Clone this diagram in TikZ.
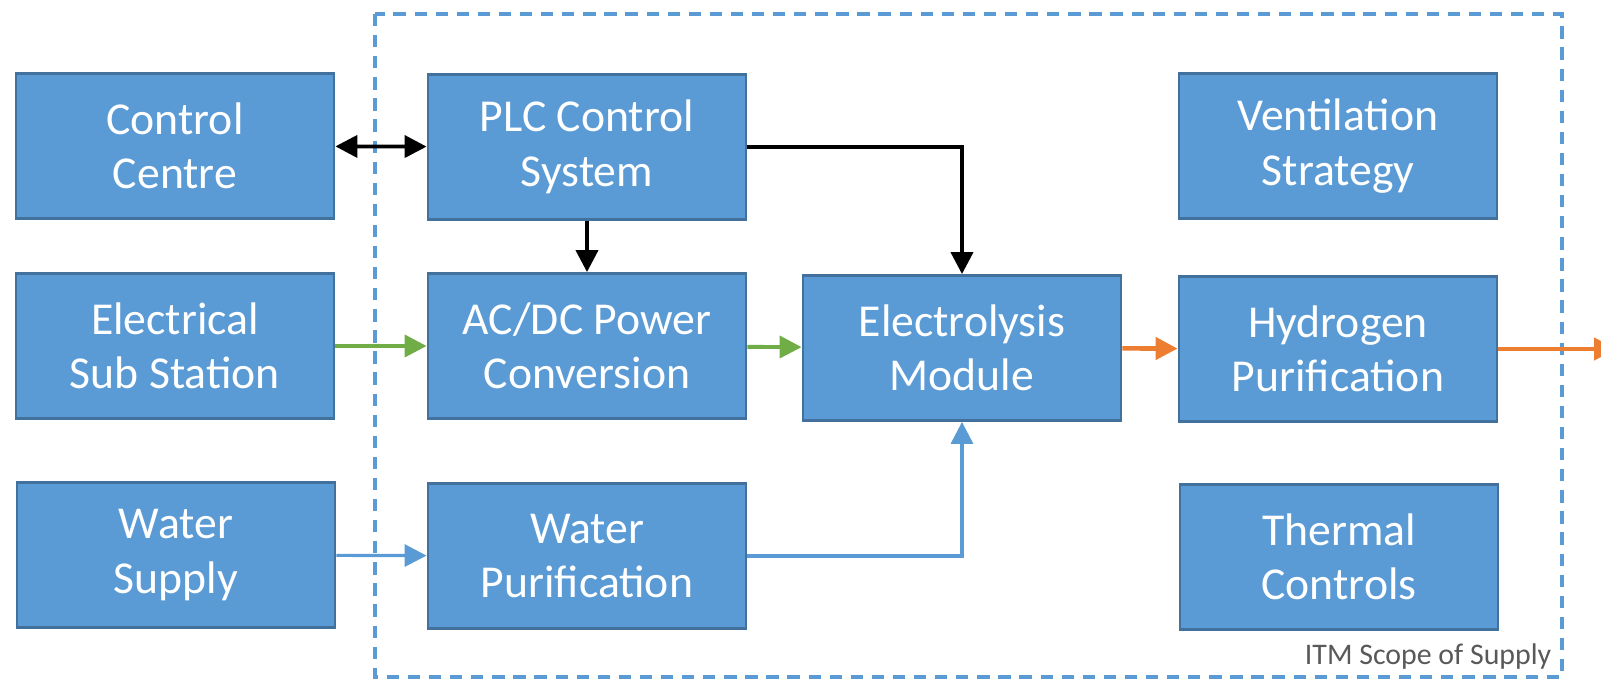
\documentclass[tikz,border=0pt]{standalone}
\usepackage{fontspec}
\setmainfont{Carlito}
\definecolor{itmblue}{HTML}{5B9BD5}
\definecolor{itmedge}{HTML}{41719C}
\definecolor{itmgreen}{HTML}{70AD47}
\definecolor{itmorange}{HTML}{ED7D31}
\definecolor{itmgrey}{HTML}{595959}
\usetikzlibrary{arrows.meta}

\begin{document}
\begin{tikzpicture}[
  font=\fontsize{13}{15.5}\selectfont,
  box/.style={draw=itmedge,line width=0.8pt,fill=itmblue,text=white,minimum width=3.18cm,minimum height=1.45cm,inner sep=2pt,align=center},
  ar/.style={-{Triangle[length=2.2mm,width=2.2mm]},line width=1.1pt},
  scope/.style={itmblue,line width=0.9pt,dash pattern=on 3.5pt off 2.5pt}]
\useasboundingbox (0,0) rectangle (16.01,-6.82);
\draw[scope] (3.75,-0.14) rectangle (15.62,-6.77);
\node[anchor=south east,font=\fontsize{8.5}{10}\selectfont,text=itmgrey,inner sep=0pt] (itm) at (15.52,-6.70) {ITM Scope of Supply};
\node[box] (cc) at (1.75,-1.46) {Control\\Centre};
\node[box] (plc) at (5.87,-1.47) {PLC Control\\System};
\node[box] (vent) at (13.38,-1.46) {Ventilation\\Strategy};
\node[box] (sub) at (1.75,-3.46) {Electrical\\Sub Station};
\node[box] (acdc) at (5.87,-3.46) {AC/DC Power\\Conversion};
\node[box] (elec) at (9.62,-3.48) {Electrolysis\\Module};
\node[box] (hyd) at (13.38,-3.49) {Hydrogen\\Purification};
\node[box] (ws) at (1.76,-5.55) {Water\\Supply};
\node[box] (wp) at (5.87,-5.56) {Water\\Purification};
\node[box] (therm) at (13.39,-5.57) {Thermal\\Controls};
\coordinate (out) at (16.16,-3.49);
\draw[ar,{Triangle[length=2.2mm,width=2.2mm]}-{Triangle[length=2.2mm,width=2.2mm]}] (cc) -- (plc);
\draw[ar] (plc) -- (acdc);
\draw[ar] (plc.east) -| (elec.north);
\draw[ar,itmgreen] (sub) -- (acdc);
\draw[ar,itmgreen] (acdc) -- (elec);
\draw[ar,itmorange,line width=1.3pt] (elec) -- (hyd);
\draw[ar,itmorange,line width=1.3pt] (hyd) -- (out);
\draw[ar,itmblue,line width=0.9pt] (ws) -- (wp);
\draw[ar,itmblue,line width=0.9pt] (wp.east) -| (elec.south);
\end{tikzpicture}
\end{document}
